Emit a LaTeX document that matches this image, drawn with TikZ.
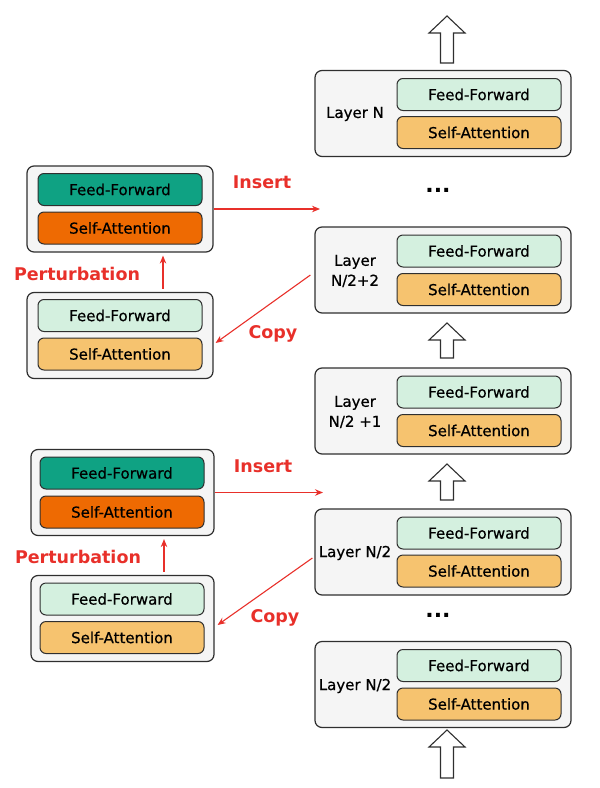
\documentclass[tikz,border=0pt]{standalone}
\usepackage{fontspec}
\setmainfont{DejaVu Sans}
\newfontfamily\medfont{DejaVu Sans}[FakeBold=0.6]
\usetikzlibrary{arrows.meta,calc}
\definecolor{outerfill}{HTML}{F5F5F5}
\definecolor{edge}{HTML}{2F2F2F}
\definecolor{fflight}{HTML}{D4F0DF}
\definecolor{salight}{HTML}{F6C36F}
\definecolor{ffdark}{HTML}{0FA283}
\definecolor{sadark}{HTML}{EE6A02}
\definecolor{redc}{HTML}{E8302A}
\tikzset{
  outerbox/.style={draw=edge, line width=1.2pt, fill=outerfill, rounded corners=7pt, minimum height=86pt, inner sep=0pt},
  innerbox/.style={draw=edge, line width=1pt, rounded corners=6pt, minimum width=164pt, minimum height=32pt, inner sep=0pt, font=\medfont\fontsize{15}{18}\selectfont},
  ffl/.style={innerbox, fill=fflight},
  sal/.style={innerbox, fill=salight},
  ffd/.style={innerbox, fill=ffdark},
  sad/.style={innerbox, fill=sadark},
  layerlbl/.style={align=center, font=\medfont\fontsize{15}{20}\selectfont, inner sep=0pt},
  redlbl/.style={text=redc, font=\bfseries\fontsize{17.5}{20}\selectfont, inner sep=0pt},
  redarrow/.style={draw=redc, line width=1.1pt, -{Stealth[length=8pt,width=6.5pt]}},
  blkarrow/.style={draw=edge, line width=1.1pt, fill=white, line join=miter},
  dotslbl/.style={font=\bfseries\fontsize{22}{22}\selectfont, inner sep=0pt}
}
\newcommand{\myblockarrow}[3]{% x, ytop, ybottom
  \draw[blkarrow] (#1,#2) -- (#1+18,#2+17) -- (#1+6.5,#2+17) -- (#1+6.5,#3) -- (#1-6.5,#3) -- (#1-6.5,#2+17) -- (#1-18,#2+17) -- cycle;
}
\begin{document}
\begin{tikzpicture}[x=1pt,y=-1pt]
\useasboundingbox (0,0) rectangle (600,788);

% ---------- right column ----------
\node[outerbox, minimum width=256pt] (LN) at (443,113.5) {};
\node[ffl] (LNff) at (479,94.5) {Feed-Forward};
\node[sal] (LNsa) at (479,132.5) {Self-Attention};
\node[layerlbl] (LNl) at (355,114) {Layer N};

\node[dotslbl] (dots1) at (438,190) {...};

\node[outerbox, minimum width=256pt] (L22) at (443,270) {};
\node[ffl] (L22ff) at (479,251) {Feed-Forward};
\node[sal] (L22sa) at (479,289.5) {Self-Attention};
\node[layerlbl] (L22l) at (355,271) {Layer\\N/2+2};

\node[outerbox, minimum width=256pt] (L21) at (443,411) {};
\node[ffl] (L21ff) at (479,392) {Feed-Forward};
\node[sal] (L21sa) at (479,430.5) {Self-Attention};
\node[layerlbl] (L21l) at (355,412) {Layer\\N/2 +1};

\node[outerbox, minimum width=256pt] (L2a) at (443,552) {};
\node[ffl] (L2aff) at (479,533) {Feed-Forward};
\node[sal] (L2asa) at (479,571) {Self-Attention};
\node[layerlbl] (L2al) at (355,553) {Layer N/2};

\node[dotslbl] (dots2) at (438,615) {...};

\node[outerbox, minimum width=256pt] (L2b) at (443,684.5) {};
\node[ffl] (L2bff) at (479,665.5) {Feed-Forward};
\node[sal] (L2bsa) at (479,704) {Self-Attention};
\node[layerlbl] (L2bl) at (355,686) {Layer N/2};

% block arrows
\myblockarrow{447}{16}{63}
\myblockarrow{447}{323}{358}
\myblockarrow{447}{464}{500}
\myblockarrow{447}{730}{778}

% ---------- left column, upper pair ----------
\node[outerbox, minimum width=186pt] (P1) at (120,209) {};
\node[ffd] (P1ff) at (120,189.5) {Feed-Forward};
\node[sad] (P1sa) at (120,228) {Self-Attention};

\node[outerbox, minimum width=186pt] (C1) at (120,335.5) {};
\node[ffl] (C1ff) at (120,315.5) {Feed-Forward};
\node[sal] (C1sa) at (120,354) {Self-Attention};

% ---------- left column, lower pair ----------
\node[outerbox, minimum width=183pt] (P2) at (122.5,492.5) {};
\node[ffd] (P2ff) at (122,473) {Feed-Forward};
\node[sad] (P2sa) at (122,512) {Self-Attention};

\node[outerbox, minimum width=183pt] (C2) at (122.5,618.5) {};
\node[ffl] (C2ff) at (122,599) {Feed-Forward};
\node[sal] (C2sa) at (122,637.5) {Self-Attention};

% ---------- red connectors ----------
\coordinate (ins1) at (320,209);
\coordinate (ins2) at (323,492.5);
\draw[redarrow] (P1.east) -- (ins1);
\draw[redarrow] (P2.east) -- (ins2);

\draw[redarrow] ([xshift=43pt,yshift=3pt]C1.north) -- ([xshift=43pt,yshift=-3pt]P1.south);
\draw[redarrow] ([xshift=41.5pt,yshift=3pt]C2.north) -- ([xshift=41.5pt,yshift=-3pt]P2.south);

\draw[redarrow] ([xshift=-4pt,yshift=-5pt]L22.west) -- ([xshift=2pt,yshift=-7.5pt]C1.east);
\draw[redarrow] ([xshift=-2pt,yshift=-6pt]L2a.west) -- ([xshift=3pt,yshift=-6.5pt]C2.east);

\node[redlbl] (tins1) at (262,182) {Insert};
\node[redlbl] (tins2) at (263,466) {Insert};
\node[redlbl] (tper1) at (77,274) {Perturbation};
\node[redlbl] (tper2) at (78,557) {Perturbation};
\node[redlbl] (tcop1) at (273,334) {Copy};
\node[redlbl] (tcop2) at (275,618) {Copy};
\end{tikzpicture}
\end{document}
